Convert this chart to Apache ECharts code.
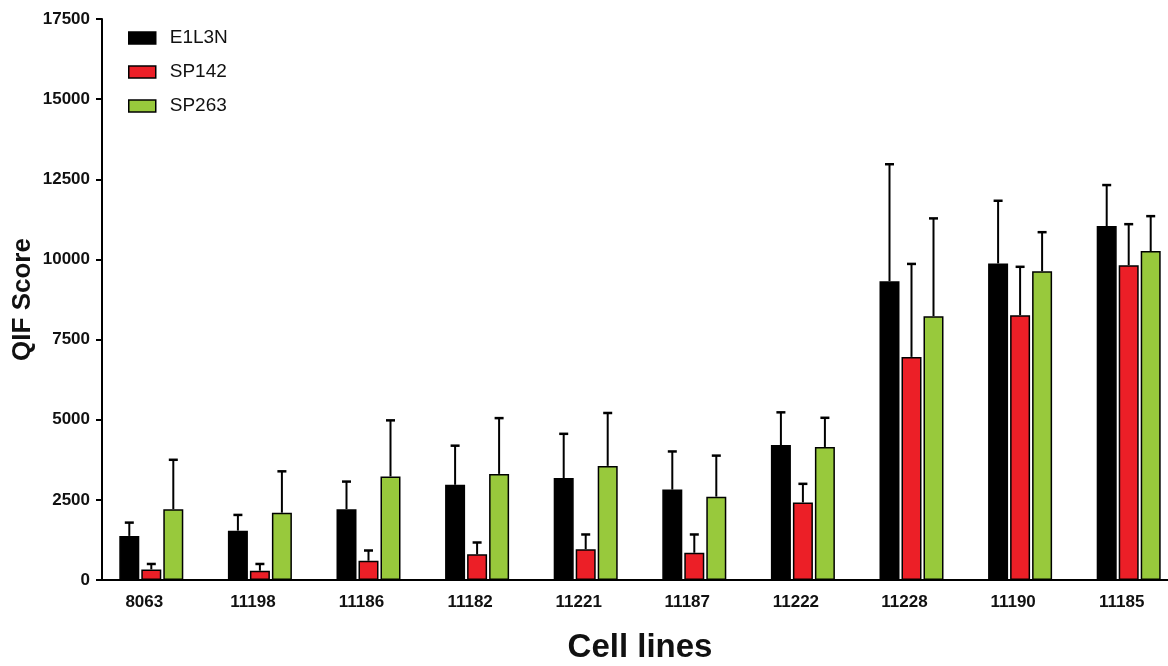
<!DOCTYPE html>
<html>
<head>
<meta charset="utf-8">
<script src="https://cdn.jsdelivr.net/npm/echarts@6/dist/echarts.min.js"></script>
<style>html,body{margin:0;padding:0;background:#fff}#c{width:1168px;height:666px}</style>
</head>
<body>
<div id="c"></div>
<script>
var categories = ['8063','11198','11186','11182','11221','11187','11222','11228','11190','11185'];
var seriesNames = ['E1L3N','SP142','SP263'];
var e1l3n    = [1375, 1540, 2210, 2970, 3180, 2820, 4210, 9320, 9875, 11040];
var e1l3nSD  = [415, 490, 860, 1220, 1380, 1190, 1020, 3650, 1955, 1280];
var sp142    = [330, 290, 600, 800, 960, 850, 2420, 6960, 8260, 9820];
var sp142SD  = [170, 210, 320, 370, 460, 570, 580, 2900, 1510, 1280];
var sp263    = [2210, 2100, 3230, 3310, 3560, 2600, 4150, 8230, 9630, 10260];
var sp263SD  = [1540, 1290, 1750, 1740, 1650, 1280, 910, 3050, 1220, 1090];
var yTicks = [0, 2500, 5000, 7500, 10000, 12500, 15000, 17500];

var colors = ['#000000', '#EC1F27', '#98C93C'];
var BAR_W = 20, GAP = 2;
var FONT = '"Liberation Sans", Arial, sans-serif';

var means = [e1l3n, sp142, sp263];
var sds = [e1l3nSD, sp142SD, sp263SD];

function errSeries(k) {
  var off = (k - 1) * (BAR_W + GAP);
  return {
    type: 'custom',
    name: seriesNames[k] + ' SD',
    z: 1,
    silent: true,
    data: categories.map(function (c, i) { return [i, means[k][i], means[k][i] + sds[k][i]]; }),
    renderItem: function (params, api) {
      var lo = api.coord([api.value(0), api.value(1)]);
      var hi = api.coord([api.value(0), api.value(2)]);
      var x = lo[0] + off;
      return {
        type: 'group',
        children: [
          { type: 'line', shape: { x1: x, y1: lo[1], x2: x, y2: hi[1] }, style: { stroke: '#000', lineWidth: 2 } },
          { type: 'line', shape: { x1: x - 4.5, y1: hi[1], x2: x + 4.5, y2: hi[1] }, style: { stroke: '#000', lineWidth: 2.5 } }
        ]
      };
    }
  };
}

var series = [];
for (var k = 0; k < 3; k++) {
  series.push({
    type: 'bar',
    name: seriesNames[k],
    data: means[k],
    barWidth: BAR_W,
    barGap: '10%',
    z: 2,
    itemStyle: { color: colors[k], borderColor: '#000', borderWidth: 1.5 }
  });
}
for (var k2 = 0; k2 < 3; k2++) series.push(errSeries(k2));

var chart = echarts.init(document.getElementById('c'), null, { renderer: 'canvas' });
chart.setOption({
  animation: false,
  backgroundColor: '#fff',
  legend: {
    data: seriesNames,
    orient: 'vertical',
    left: 123,
    top: 23,
    itemWidth: 27,
    itemHeight: 12,
    itemGap: 14,
    icon: 'rect',
    textStyle: { fontFamily: FONT, fontSize: 19, color: '#111', lineHeight: 20, padding: [0, 0, 0, 9] },
    itemStyle: { borderColor: '#000', borderWidth: 1.5 }
  },
  grid: { left: 97, right: -15, top: 19, bottom: 86, containLabel: false, outerBoundsMode: 'none' },
  xAxis: {
    type: 'category',
    data: categories,
    name: 'Cell lines',
    nameLocation: 'middle',
    nameGap: 51,
    nameTextStyle: { fontFamily: FONT, fontSize: 33, fontWeight: 'bold', color: '#111' },
    axisLine: { lineStyle: { color: '#000', width: 2 } },
    axisTick: { alignWithLabel: true, length: 6, lineStyle: { color: '#000', width: 2 } },
    axisLabel: { fontFamily: FONT, fontSize: 17, fontWeight: 'bold', color: '#111', margin: 14, padding: [0, 14, 0, 0] }
  },
  yAxis: {
    type: 'value',
    min: 0,
    max: 17500,
    interval: 2500,
    offset: -5,
    name: 'QIF Score',
    nameLocation: 'middle',
    nameGap: 66,
    nameMoveOverlap: false,
    nameRotate: 90,
    nameTextStyle: { fontFamily: FONT, fontSize: 26, fontWeight: 'bold', color: '#111' },
    axisLine: { show: true, lineStyle: { color: '#000', width: 2 } },
    axisTick: { show: true, length: 6, lineStyle: { color: '#000', width: 2 } },
    splitLine: { show: false },
    axisLabel: {
      fontFamily: FONT, fontSize: 17, fontWeight: 'bold', color: '#111', margin: 12,
      formatter: function (v) { return yTicks.indexOf(v) >= 0 ? String(v) : ''; }
    }
  },
  series: series
});
</script>
</body>
</html>
